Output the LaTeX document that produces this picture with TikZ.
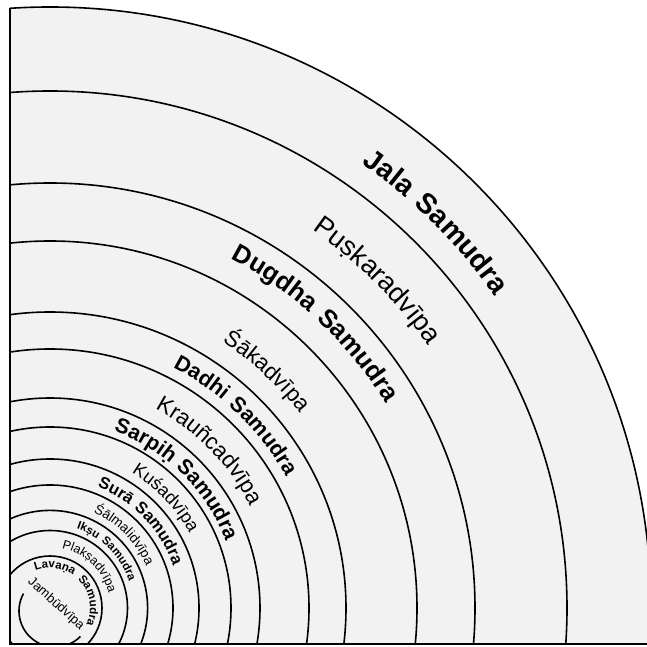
\documentclass[tikz,border=0pt]{standalone}
\usepackage{fontspec}
\setmainfont{Liberation Sans}
\usetikzlibrary{calc,decorations.text}

% label set along a clockwise arc: radius, centre angle, half span, size, weight, text
\newcommand{\ringlabel}[6]{%
  \path[decorate, decoration={text along path, text align=center,
      text={|\fontsize{#4}{#4}\selectfont#5|#6}}]
    (#2+#3:#1) arc[start angle=#2+#3, end angle=#2-#3, radius=#1];}

\tikzset{
  ringline/.style={line width=1.6pt},
  frameline/.style={line width=1.6pt}
}

\begin{document}
\begin{tikzpicture}[x=1pt,y=1pt]
  \useasboundingbox (-50,-39) rectangle (597,608);
  \coordinate (jc) at (5,-3);
  \begin{scope}
    \clip (-40,-36) rectangle (597,608);
    \fill[black!5] (0,0) circle (601);
    \foreach \r in {52,77.5,97.6,123,149,181,210,259,296,367,425,517,601}
      \draw[ringline] (0,0) circle (\r);
    \draw[ringline] ($(jc)+(151:36)$) arc[start angle=151, end angle=315, radius=36];
  \end{scope}
  \draw[frameline] (-40,599.7) -- (-40,-36) -- (597,-36);

  % oceans and continents
  \ringlabel{543}{45}{40}{28.5}{\bfseries}{Jala{\hskip11pt}Samudra}
  \ringlabel{460}{45}{40}{27}{}{Puṣkaradvīpa}
  \ringlabel{393}{47}{45}{25.5}{\bfseries}{Dugdha{\hskip10pt}Samudra}
  \ringlabel{317}{47.5}{45}{22.5}{}{Śākadvīpa}
  \ringlabel{270}{46}{55}{21.5}{\bfseries}{Dadhi{\hskip8pt}Samudra}
  \ringlabel{225}{44.5}{55}{22.5}{}{Krauñcadvīpa}
  \ringlabel{188}{45.5}{65}{21}{\bfseries}{Sarpiḥ{\hskip7pt}Samudra}
  \ringlabel{158}{43.5}{65}{18}{}{Kuśadvīpa}
  \ringlabel{130}{43.7}{75}{16.5}{\bfseries}{Surā{\hskip6pt}Samudra}
  \ringlabel{105}{44.6}{75}{13.5}{}{Śālmalidvīpa}
  \ringlabel{83.5}{45}{85}{11.5}{\bfseries}{Ikṣu{\hskip5pt}Samudra}
  \ringlabel{60.5}{46.5}{90}{12.5}{}{Plakṣadvīpa}
  \ringlabel{40}{43.5}{110}{11.5}{\bfseries}{Lavaṇa{\hskip6pt}Samudra}
  \node[rotate=-42, font=\fontsize{13}{13}\selectfont] (jambu) at (6,4) {Jambūdvīpa};
\end{tikzpicture}
\end{document}
